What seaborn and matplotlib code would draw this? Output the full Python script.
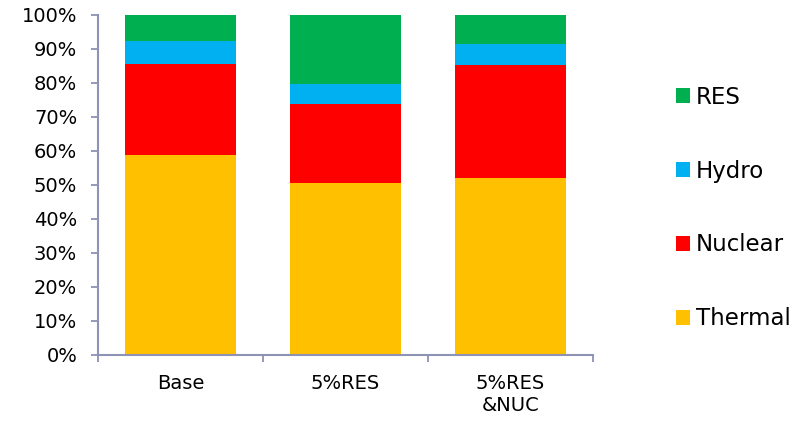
import matplotlib
matplotlib.use("Agg")
import matplotlib.pyplot as plt
from matplotlib.patches import Patch
from matplotlib.ticker import FuncFormatter, FixedLocator
import numpy as np
import pandas as pd
import seaborn as sns

# Generation mix per scenario (share of total, %)
scenarios = ["Base", "5%RES", "5%RES\n&NUC"]
thermal = [58.8, 50.7, 52.1]
nuclear = [26.7, 23.0, 33.3]
hydro = [6.8, 5.9, 6.1]
res = [7.7, 20.4, 8.5]

sources = ["Thermal", "Nuclear", "Hydro", "RES"]
colors = {"Thermal": "#FFC000", "Nuclear": "#FF0000", "Hydro": "#00B0F0", "RES": "#00B050"}

df = pd.DataFrame({"scenario": scenarios, "Thermal": thermal, "Nuclear": nuclear,
                   "Hydro": hydro, "RES": res})
cum = df[sources].cumsum(axis=1)
cum["scenario"] = df["scenario"]

sns.set_theme(style="white")
plt.rcParams["font.family"] = ["DejaVu Sans"]

fig = plt.figure(figsize=(8.08, 4.24), dpi=100)
ax = fig.add_axes([98 / 808, 1 - 355 / 424, 495 / 808, 340 / 424])

# Stack by drawing cumulative totals from the top series down
for src in reversed(sources):
    sns.barplot(data=cum, x="scenario", y=src, color=colors[src], width=0.667,
                saturation=1, ax=ax, order=scenarios, linewidth=0)

ax.set_xlim(-0.5, 2.5)
ax.set_ylim(0, 100)
ax.set_xlabel("")
ax.set_ylabel("")
ax.set_yticks(np.arange(0, 101, 10))
ax.yaxis.set_major_formatter(FuncFormatter(lambda v, _: f"{int(v)}%"))

axis_color = "#8E92B4"
for side in ["top", "right"]:
    ax.spines[side].set_visible(False)
for side in ["left", "bottom"]:
    ax.spines[side].set_color(axis_color)
    ax.spines[side].set_linewidth(1.5)

ax.tick_params(axis="y", which="major", direction="out", length=5, width=1.3,
               color=axis_color, left=True, pad=10, labelsize=14, labelcolor="#000000")
ax.tick_params(axis="x", which="major", length=0, pad=14, labelsize=14, labelcolor="#000000")
ax.xaxis.set_minor_locator(FixedLocator([-0.5, 0.5, 1.5, 2.5]))
ax.tick_params(axis="x", which="minor", direction="out", length=5, width=1.3,
               color=axis_color, bottom=True)

handles = [Patch(facecolor=colors[s], edgecolor="none", label=s) for s in reversed(sources)]
leg = fig.legend(handles=handles, loc="center left",
                 bbox_to_anchor=(676 / 808, 1 - 208 / 424),
                 frameon=False, fontsize=16.5, handlelength=0.61, handleheight=0.61,
                 handletextpad=0.26, labelspacing=2.22, borderaxespad=0, borderpad=0)
for t in leg.get_texts():
    t.set_color("#000000")

fig.savefig("out.png", dpi=100)
